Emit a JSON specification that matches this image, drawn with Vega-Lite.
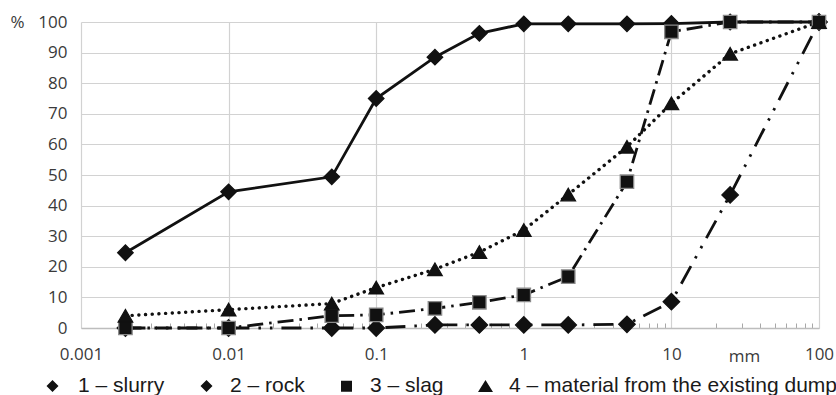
{
  "$schema": "https://vega.github.io/schema/vega-lite/v6.json",
  "width": 738,
  "height": 306,
  "autosize": {"type": "none"},
  "padding": {"left": 81, "top": 22, "right": 17, "bottom": 67},
  "background": "white",
  "config": {"view": {"stroke": null}, "font": "Open Sans"},
  "data": {"values": [
    {"series": "1 – slurry", "mm": 0.002, "pct": 24.6},
    {"series": "1 – slurry", "mm": 0.01, "pct": 44.5},
    {"series": "1 – slurry", "mm": 0.05, "pct": 49.4},
    {"series": "1 – slurry", "mm": 0.1, "pct": 75},
    {"series": "1 – slurry", "mm": 0.25, "pct": 88.5},
    {"series": "1 – slurry", "mm": 0.5, "pct": 96.3},
    {"series": "1 – slurry", "mm": 1, "pct": 99.4},
    {"series": "1 – slurry", "mm": 2, "pct": 99.4},
    {"series": "1 – slurry", "mm": 5, "pct": 99.4},
    {"series": "1 – slurry", "mm": 10, "pct": 99.5},
    {"series": "1 – slurry", "mm": 25, "pct": 100},
    {"series": "1 – slurry", "mm": 100, "pct": 100},
    {"series": "2 – rock", "mm": 0.002, "pct": 0},
    {"series": "2 – rock", "mm": 0.01, "pct": 0},
    {"series": "2 – rock", "mm": 0.05, "pct": 0},
    {"series": "2 – rock", "mm": 0.1, "pct": 0},
    {"series": "2 – rock", "mm": 0.25, "pct": 1},
    {"series": "2 – rock", "mm": 0.5, "pct": 1},
    {"series": "2 – rock", "mm": 1, "pct": 1},
    {"series": "2 – rock", "mm": 2, "pct": 1},
    {"series": "2 – rock", "mm": 5, "pct": 1.2},
    {"series": "2 – rock", "mm": 10, "pct": 8.6},
    {"series": "2 – rock", "mm": 25, "pct": 43.5},
    {"series": "2 – rock", "mm": 100, "pct": 100},
    {"series": "3 – slag", "mm": 0.002, "pct": 0},
    {"series": "3 – slag", "mm": 0.01, "pct": 0},
    {"series": "3 – slag", "mm": 0.05, "pct": 4},
    {"series": "3 – slag", "mm": 0.1, "pct": 4.3},
    {"series": "3 – slag", "mm": 0.25, "pct": 6.4},
    {"series": "3 – slag", "mm": 0.5, "pct": 8.4},
    {"series": "3 – slag", "mm": 1, "pct": 10.8},
    {"series": "3 – slag", "mm": 2, "pct": 16.8},
    {"series": "3 – slag", "mm": 5, "pct": 47.8},
    {"series": "3 – slag", "mm": 10, "pct": 96.8},
    {"series": "3 – slag", "mm": 25, "pct": 100},
    {"series": "3 – slag", "mm": 100, "pct": 100},
    {"series": "4 – material from the existing dump", "mm": 0.002, "pct": 4},
    {"series": "4 – material from the existing dump", "mm": 0.01, "pct": 6},
    {"series": "4 – material from the existing dump", "mm": 0.05, "pct": 8},
    {"series": "4 – material from the existing dump", "mm": 0.1, "pct": 13.2},
    {"series": "4 – material from the existing dump", "mm": 0.25, "pct": 19.2},
    {"series": "4 – material from the existing dump", "mm": 0.5, "pct": 24.8},
    {"series": "4 – material from the existing dump", "mm": 1, "pct": 32},
    {"series": "4 – material from the existing dump", "mm": 2, "pct": 43.6},
    {"series": "4 – material from the existing dump", "mm": 5, "pct": 59.2},
    {"series": "4 – material from the existing dump", "mm": 10, "pct": 73.4},
    {"series": "4 – material from the existing dump", "mm": 25, "pct": 89.6},
    {"series": "4 – material from the existing dump", "mm": 100, "pct": 100}
  ]},
  "encoding": {
    "x": {
      "field": "mm", "type": "quantitative",
      "scale": {"type": "log", "domain": [0.001, 100], "nice": false},
      "axis": {
        "title": "mm",
        "titleX": 663, "titleY": 33, "titleBaseline": "alphabetic", "titleAlign": "center",
        "titleFont": "Open Sans", "titleFontSize": 17, "titleFontWeight": "normal", "titleColor": "#3a3a3a",
        "values": [0.001, 0.002, 0.003, 0.004, 0.005, 0.006, 0.007, 0.008, 0.009,
                   0.01, 0.02, 0.03, 0.04, 0.05, 0.06, 0.07, 0.08, 0.09,
                   0.1, 0.2, 0.3, 0.4, 0.5, 0.6, 0.7, 0.8, 0.9,
                   1, 2, 3, 4, 5, 6, 7, 8, 9,
                   10, 20, 30, 40, 50, 60, 70, 80, 90, 100],
        "labelExpr": "abs(log(datum.value)/LN10 - round(log(datum.value)/LN10)) < 1e-6 ? (datum.value < 1 ? format(datum.value, '.3~f') : format(datum.value, 'd')) : ''",
        "labelFont": "Open Sans", "labelFontSize": 17, "labelColor": "#3a3a3a",
        "labelPadding": 23, "labelFlush": false, "labelOverlap": false,
        "grid": true, "gridColor": "#d2d2d2", "gridWidth": 1.2,
        "gridOpacity": {"condition": {"test": "abs(log(datum.value)/LN10 - round(log(datum.value)/LN10)) < 1e-6", "value": 1}, "value": 0},
        "ticks": true, "tickSize": -5, "tickColor": "#a8a8a8", "tickWidth": 1,
        "tickOpacity": {"condition": {"test": "abs(log(datum.value)/LN10 - round(log(datum.value)/LN10)) < 1e-6", "value": 0}, "value": 1},
        "domain": true, "domainColor": "#bdbdbd", "domainWidth": 1.5
      }
    },
    "y": {
      "field": "pct", "type": "quantitative",
      "scale": {"domain": [0, 100], "nice": false},
      "axis": {
        "title": "%", "titleAngle": 0, "titleX": -64, "titleY": 5, "titleAlign": "center", "titleBaseline": "alphabetic",
        "titleFont": "Open Sans", "titleFontSize": 17, "titleFontWeight": "normal", "titleColor": "#3a3a3a",
        "values": [0, 10, 20, 30, 40, 50, 60, 70, 80, 90, 100],
        "labelFont": "Open Sans", "labelFontSize": 17, "labelColor": "#3a3a3a", "labelPadding": 14,
        "ticks": false, "domain": false, "grid": true, "gridColor": "#d2d2d2", "gridWidth": 1.2
      }
    }
  },
  "layer": [
    {
      "transform": [{"filter": "datum.series === '1 – slurry'"}],
      "mark": {"type": "line", "color": "#111111", "strokeWidth": 2.8},
      "encoding": {}
    },
    {
      "transform": [{"filter": "datum.series === '2 – rock'"}],
      "mark": {"type": "line", "color": "#111111", "strokeWidth": 2.8, "strokeDash": [20, 9, 2.5, 9, 2.5, 9]},
      "encoding": {}
    },
    {
      "transform": [{"filter": "datum.series === '3 – slag'"}],
      "mark": {"type": "line", "color": "#111111", "strokeWidth": 2.8, "strokeDash": [16, 6, 2.5, 6]},
      "encoding": {}
    },
    {
      "transform": [{"filter": "datum.series === '4 – material from the existing dump'"}],
      "mark": {"type": "line", "color": "#111111", "strokeWidth": 3.4, "strokeCap": "round", "strokeDash": [0.1, 6.6]},
      "encoding": {}
    },
    {
      "mark": {"type": "point", "filled": true, "fill": "#111111", "strokeWidth": 1.3},
      "encoding": {
        "shape": {
          "field": "series", "type": "nominal", "legend": null,
          "scale": {"domain": ["4 – material from the existing dump", "3 – slag", "2 – rock", "1 – slurry"],
                    "range": ["triangle-up", "square", "diamond", "diamond"]}
        },
        "size": {
          "field": "series", "type": "nominal", "legend": null,
          "scale": {"domain": ["3 – slag", "4 – material from the existing dump", "1 – slurry", "2 – rock"],
                    "range": [180, 270, 210, 210]}
        },
        "stroke": {
          "field": "series", "type": "nominal", "legend": null,
          "scale": {"domain": ["2 – rock", "1 – slurry", "4 – material from the existing dump", "3 – slag"],
                    "range": ["#111111", "#111111", "#111111", "#8a8a8a"]}
        },
        "opacity": {
          "field": "series", "type": "nominal",
          "scale": {"domain": ["1 – slurry", "2 – rock", "3 – slag", "4 – material from the existing dump"],
                    "range": [1, 1, 1, 1]},
          "legend": {
            "title": null, "orient": "none", "direction": "horizontal",
            "legendX": -59, "legendY": 353, "padding": 0,
            "symbolSize": 4, "labelOffset": 35, "columnPadding": 9,
            "symbolType": {"expr": "datum.value === '1 – slurry' ? 'M0,0H40M14,0L20,-6L26,0L20,6Z' : datum.value === '2 – rock' ? 'M0,0H18M16,0L22,-6L28,0L22,6ZM33,0H36' : datum.value === '3 – slag' ? 'M0,0H12M16.5,-5.5H27.5V5.5H16.5ZM31,0H34' : 'M0,0H2.5M4.5,0H7M9,0H11.5M14.5,6L22,-6L29.5,6ZM32,0H34.5M36.5,0H39'"},
            "symbolFillColor": "#111111", "symbolStrokeColor": "#111111", "symbolStrokeWidth": 2.8,
            "labelFont": "Liberation Sans", "labelFontSize": 21, "labelColor": "#1a1a1a", "labelLimit": 600
          }
        }
      }
    }
  ]
}
